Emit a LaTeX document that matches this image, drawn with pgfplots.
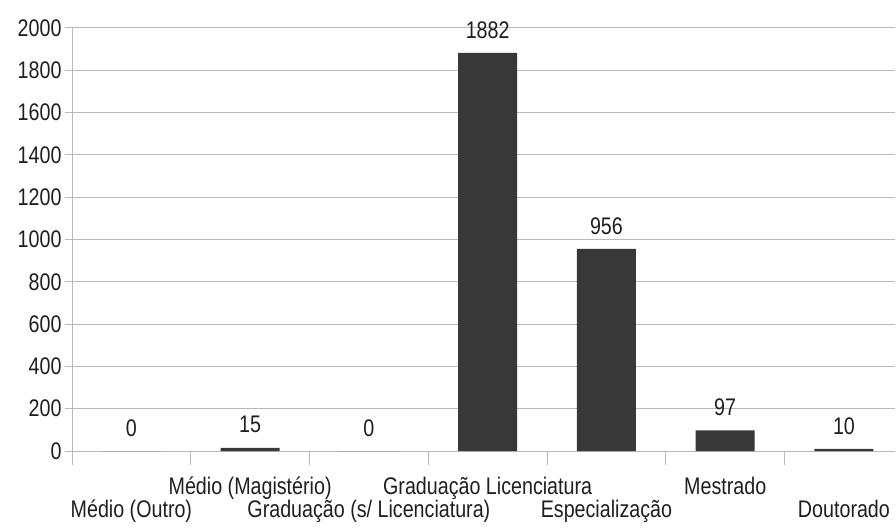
\documentclass[border=0pt]{standalone}
\usepackage{fontspec}
\setmainfont{Liberation Sans}[FakeStretch=0.82]
\usepackage{pgfplots}
\pgfplotsset{compat=1.18}
\definecolor{barfill}{HTML}{383838}
\definecolor{gridgray}{HTML}{B8B8B8}
\begin{document}
\begin{tikzpicture}
\begin{axis}[
    at={(72pt,-451pt)}, anchor=south west,
    scale only axis,
    width=823pt, height=423pt,
    xmin=-0.5, xmax=6.43,
    ymin=0, ymax=2000,
    ybar, bar width=59pt,
    axis x line*=bottom, axis y line*=left,
    axis line style={gridgray, line width=1pt},
    x axis line style={-}, y axis line style={-},
    ytick={0,200,...,2000},
    ymajorgrids, major grid style={gridgray, line width=1pt},
    xtick={0,2,4,6},
    xticklabels={Médio (Outro), Graduação (s/ Licenciatura), Especialização, Doutorado},
    extra x ticks={1,3,5},
    extra x tick labels={Médio (Magistério), Graduação Licenciatura, Mestrado},
    extra x tick style={xticklabel style={yshift=23pt}},
    minor xtick={-0.5,0.5,...,6.5},
    tick align=outside,
    major tick length=7pt, minor tick length=14pt,
    tick style={gridgray, line width=1pt},
    xtick style={draw=none},
    minor x tick style={draw=gridgray},
    xticklabel style={anchor=base, yshift=-59pt, text=black!88},
    yticklabel style={text=black!88},
    font=\fontsize{24}{26}\selectfont,
    /pgf/number format/assume math mode=true,
    /pgf/number format/1000 sep={},
    nodes near coords,
    every node near coord/.append style={anchor=center, yshift=23pt, text=black!88},
    clip=false,
]
\addplot[fill=barfill, draw=none] coordinates {(0,0) (1,15) (2,0) (3,1882) (4,956) (5,97) (6,10)};
\end{axis}
\pgfresetboundingbox
\useasboundingbox (0,0) rectangle (896pt,-529pt);
\end{tikzpicture}
\end{document}
